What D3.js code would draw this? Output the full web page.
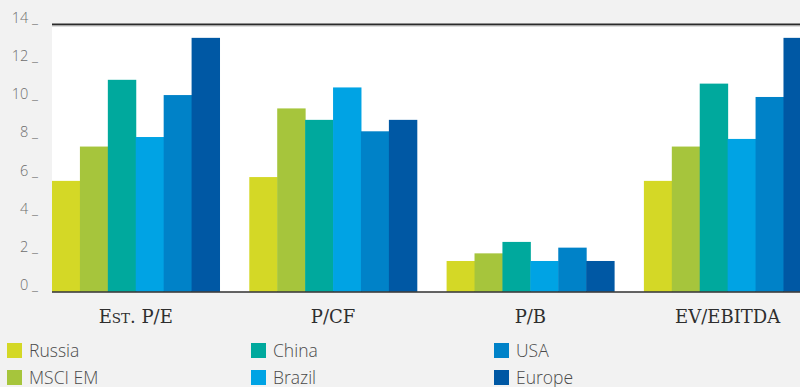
<!DOCTYPE html>
<html>
<head>
<meta charset="utf-8">
<script src="https://cdn.jsdelivr.net/npm/d3@7/dist/d3.min.js"></script>
<style>
  html, body { margin: 0; padding: 0; background: #f2f2f2; }
  svg { display: block; }
</style>
</head>
<body>
<svg id="chart" width="800" height="387"></svg>
<script>
// Valuation multiples by market
const categories = ["Est. P/E", "P/CF", "P/B", "EV/EBITDA"];
const seriesNames = ["Russia", "MSCI EM", "China", "Brazil", "USA", "Europe"];
const russia = [5.8, 6.0, 1.6, 5.8];
const msciEm = [7.6, 9.6, 2.0, 7.6];
const china  = [11.1, 9.0, 2.6, 10.9];
const brazil = [8.1, 10.7, 1.6, 8.0];
const usa    = [10.3, 8.4, 2.3, 10.2];
const europe = [13.3, 9.0, 1.6, 13.3];
const yTicks = [0, 2, 4, 6, 8, 10, 12, 14];
const colors = ["#d4d826", "#a6c53c", "#00a99d", "#00a3e4", "#0082c8", "#0058a4"];

const seriesValues = [russia, msciEm, china, brazil, usa, europe];

const svg = d3.select("#chart");
const W = 800, H = 387;

const plot = { left: 52, top: 25, bottom: 291.5 };

const x0 = d3.scaleBand()
  .domain(categories)
  .range([plot.left, 811.4])
  .paddingInner(0.151)
  .paddingOuter(0);

const x1 = d3.scaleBand()
  .domain(seriesNames)
  .range([0, x0.bandwidth()])
  .padding(0);

const y = d3.scaleLinear()
  .domain([0, 14])
  .range([plot.bottom, 24.5]);

// plot background
svg.append("rect")
  .attr("x", plot.left).attr("y", y(14))
  .attr("width", W - plot.left).attr("height", y(0) - y(14))
  .attr("fill", "#ffffff");

// y tick labels with trailing dash
svg.append("g")
  .selectAll("text")
  .data(yTicks)
  .join("text")
  .attr("x", 38)
  .attr("y", d => y(d) - 1.5)
  .attr("text-anchor", "end")
  .attr("font-family", "'Open Sans', sans-serif")
  .attr("font-size", 14.5)
  .attr("font-weight", 300)
  .attr("fill", "#6e6e6e")
  .text(d => d + " _");

// bars
const groups = svg.append("g")
  .selectAll("g")
  .data(categories)
  .join("g")
  .attr("transform", d => `translate(${x0(d)},0)`);

groups.selectAll("rect")
  .data((c, ci) => seriesNames.map((s, si) => ({ s, si, v: seriesValues[si][ci] })))
  .join("rect")
  .attr("x", d => x1(d.s))
  .attr("y", d => y(d.v))
  .attr("width", x1.bandwidth() + 0.5)
  .attr("height", d => y(0) - y(d.v))
  .attr("fill", d => colors[d.si]);

// top rule
svg.append("line")
  .attr("x1", plot.left).attr("x2", W)
  .attr("y1", 24.5).attr("y2", 24.5)
  .attr("stroke", "#2b2b2b").attr("stroke-width", 2);
svg.append("line")
  .attr("x1", plot.left).attr("x2", W)
  .attr("y1", 26).attr("y2", 26)
  .attr("stroke", "#bdbdbd").attr("stroke-width", 1);

// baseline
svg.append("line")
  .attr("x1", plot.left).attr("x2", W)
  .attr("y1", 292).attr("y2", 292)
  .attr("stroke", "rgba(0,0,0,0.6)").attr("stroke-width", 2);

// category labels
const catLabels = svg.append("g")
  .selectAll("text")
  .data(categories)
  .join("text")
  .attr("x", d => x0(d) + x0.bandwidth() / 2)
  .attr("y", 323)
  .attr("text-anchor", "middle")
  .attr("font-family", "'DejaVu Serif', 'Liberation Serif', serif")
  .attr("font-size", 18)
  .attr("fill", "#2e2e2e");

catLabels.each(function (d) {
  const t = d3.select(this);
  if (d.startsWith("Est.")) {
    t.append("tspan").text("E");
    t.append("tspan").attr("font-size", 13.5).text("ST");
    t.append("tspan").text(". P/E");
  } else {
    t.text(d);
  }
});

// legend
const legendCols = [7, 251, 494];
const legendRows = [343, 370];
const legend = svg.append("g")
  .selectAll("g")
  .data(seriesNames)
  .join("g")
  .attr("transform", (d, i) => `translate(${legendCols[Math.floor(i / 2)]},${legendRows[i % 2]})`);

legend.append("rect")
  .attr("width", 15).attr("height", 15)
  .attr("fill", (d, i) => colors[i]);

legend.append("text")
  .attr("x", 22)
  .attr("y", 14)
  .attr("font-family", "'Open Sans', sans-serif")
  .attr("font-size", 17.5)
  .attr("font-weight", 300)
  .attr("fill", "#4a4a4a")
  .text(d => d);
</script>
</body>
</html>
